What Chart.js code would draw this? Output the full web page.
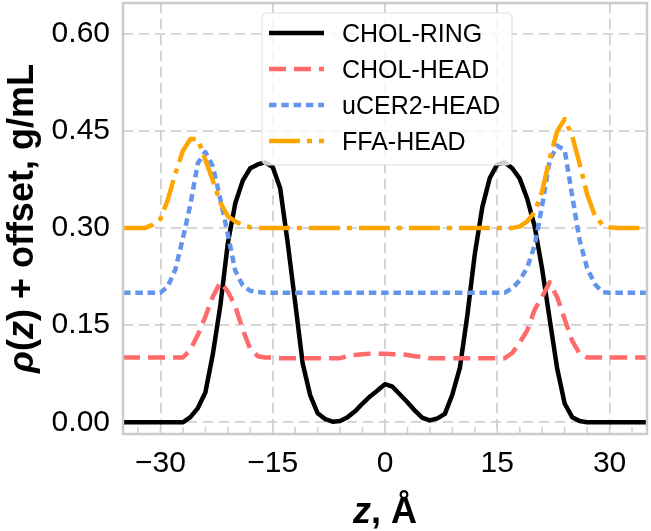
<!DOCTYPE html>
<html><head><meta charset="utf-8">
<script src="https://cdn.jsdelivr.net/npm/chart.js@4/dist/chart.umd.min.js"></script>
<style>html,body{margin:0;padding:0;background:#fff;}#wrap{width:651px;height:531px;}</style>
</head><body><div id="wrap"><canvas id="c" width="651" height="531"></canvas></div>
<script>
const zValues = [-35,-34,-33,-32,-31,-30,-29,-28,-27,-26,-25,-24,-23,-22,-21,-20,-19,-18,-17,-16,-15,-14,-13,-12,-11,-10,-9,-8,-7,-6,-5,-4,-3,-2,-1,0,1,2,3,4,5,6,7,8,9,10,11,12,13,14,15,16,17,18,19,20,21,22,23,24,25,26,27,28,29,30,31,32,33,34,35];

const cholRing = [0,0,0,0,0,0,0,0,0,
  0.008,0.022,0.046,0.105,0.18,0.276,0.338,0.373,0.392,0.398,
  0.401,0.394,0.361,0.277,0.185,0.091,0.042,0.014,0.005,0.001,
  0.002,0.008,0.017,0.029,0.040,0.049,
  0.059,
  0.055,0.043,0.031,0.018,0.007,0.003,
  0.006,0.013,0.043,0.084,0.165,0.26,0.332,0.377,0.398,0.401,
  0.392,0.376,0.345,0.302,0.236,0.159,0.083,0.029,0.008,0.002,
  0,0,0,0,0,0,0,0,0];

const cholHead = [0.1,0.1,0.1,0.1,0.1,0.1,0.1,0.1,0.1,
  0.112,0.135,0.163,0.194,0.216,0.202,0.179,0.143,0.113,0.102,
  0.1,0.1,0.099,0.099,0.099,0.099,0.099,0.099,0.099,0.099,
  0.099,0.102,0.104,0.105,0.106,0.106,
  0.106,
  0.105,0.105,0.104,0.102,0.101,0.099,
  0.099,0.099,0.099,0.099,0.099,0.099,0.099,0.099,0.099,0.099,
  0.107,0.123,0.142,0.174,0.194,0.216,0.193,0.159,0.126,0.106,
  0.1,0.1,0.1,0.1,0.1,0.1,0.1,0.1,0.1];

const ucer2Head = [0.2,0.2,0.2,0.2,0.2,0.2,0.21,0.236,0.284,
  0.336,0.40,0.417,0.395,0.345,0.29,0.234,0.211,0.203,0.201,
  0.2,0.2,0.2,0.2,0.2,0.2,0.2,0.2,0.2,0.2,
  0.2,0.2,0.2,0.2,0.2,0.2,
  0.2,
  0.2,0.2,0.2,0.2,0.2,0.2,
  0.2,0.2,0.2,0.2,0.2,0.2,0.2,0.2,0.2,0.2,
  0.207,0.219,0.239,0.273,0.335,0.404,0.427,0.420,0.35,0.281,
  0.238,0.214,0.201,0.2,0.2,0.2,0.2,0.2,0.2];

const ffaHead = [0.3,0.3,0.3,0.3,0.305,0.314,0.344,0.384,0.419,
  0.437,0.437,0.405,0.373,0.339,0.318,0.31,0.304,0.301,0.3,
  0.3,0.3,0.3,0.3,0.3,0.3,0.3,0.3,0.3,0.3,
  0.3,0.3,0.3,0.3,0.3,0.3,
  0.3,
  0.3,0.3,0.3,0.3,0.3,0.3,
  0.3,0.3,0.3,0.3,0.3,0.3,0.3,0.3,0.3,0.3,
  0.3,0.302,0.31,0.325,0.357,0.407,0.449,0.468,0.442,0.399,
  0.352,0.32,0.305,0.301,0.3,0.3,0.3,0.3,0.3];

const seriesNames = ['CHOL-RING','CHOL-HEAD','uCER2-HEAD','FFA-HEAD'];
const xMinorTicks = [-33,-30,-27,-24,-21,-18,-15,-12,-9,-6,-3,0,3,6,9,12,15,18,21,24,27,30,33];

const FONT = "'Liberation Sans', Arial, Helvetica, sans-serif";
const GRID = '#d0d0d0';

function pts(arr){ return zValues.map((z,i)=>({x:z, y:arr[i]})); }

const styles = [
  {color:'#000000', dash:[], width:4.5},
  {color:'#ff6b6b', dash:[17,8], width:4.5},
  {color:'#6495ed', dash:[7.5,4.8], width:4.5},
  {color:'#ffa500', dash:[31,7,5,7], width:4.5}
];
const seriesData = [cholRing, cholHead, ucer2Head, ffaHead];

function drawRuns(ctx, runs, x, y){
  let total = 0;
  runs.forEach(r=>{ctx.font=r.f; r.w=ctx.measureText(r.t).width; total+=r.w;});
  let cx = x - total/2;
  ctx.textAlign='left';
  runs.forEach(r=>{ctx.font=r.f; ctx.fillText(r.t, cx, y); cx+=r.w;});
}

const decor = {
  id:'decor',
  afterDatasetsDraw(chart){
    const {ctx, chartArea:a, scales:{x}} = chart;
    ctx.save();
    ctx.setLineDash([]);
    ctx.strokeStyle = GRID; ctx.lineWidth = 1.6;
    xMinorTicks.forEach(t=>{
      const px = x.getPixelForValue(t);
      ctx.beginPath(); ctx.moveTo(px, a.bottom); ctx.lineTo(px, a.bottom-7); ctx.stroke();
    });
    ctx.lineWidth = 2.5; ctx.strokeStyle = '#cccccc';
    ctx.strokeRect(a.left, a.top, a.right-a.left, a.bottom-a.top);
    // legend
    const lx = a.left + 139, ly = a.top + 10, lw = 250, lh = 152;
    ctx.beginPath();
    ctx.roundRect(lx, ly, lw, lh, 5);
    ctx.fillStyle = 'rgba(255,255,255,0.8)';
    ctx.fill();
    ctx.lineWidth = 1; ctx.strokeStyle = '#dedede'; ctx.stroke();
    chart.data.datasets.forEach((ds,i)=>{
      const cy = ly + 20 + i*36;
      ctx.save();
      ctx.strokeStyle = ds.borderColor; ctx.lineWidth = ds.borderWidth;
      ctx.setLineDash(ds.borderDash || []);
      ctx.lineCap = 'butt';
      ctx.beginPath(); ctx.moveTo(lx+7, cy); ctx.lineTo(lx+62, cy); ctx.stroke();
      ctx.restore();
      ctx.fillStyle = '#000'; ctx.font = '25px ' + FONT; ctx.textAlign='left'; ctx.textBaseline='alphabetic';
      ctx.fillText(ds.label, lx + 80, cy + 9);
    });
    ctx.restore();
  },
  afterDraw(chart){
    const {ctx, chartArea:a} = chart;
    ctx.save();
    ctx.fillStyle = '#000'; ctx.textBaseline = 'alphabetic';
    const B = 'bold 36px ' + FONT, BI = 'italic bold 36px ' + FONT;
    drawRuns(ctx, [{t:'z',f:BI},{t:', Å',f:B}], (a.left+a.right)/2, 523);
    ctx.translate(33, (a.top+a.bottom)/2);
    ctx.rotate(-Math.PI/2);
    drawRuns(ctx, [{t:'ρ',f:BI},{t:'(',f:B},{t:'z',f:BI},{t:') + offset, g/mL',f:B}], 0, 0);
    ctx.restore();
  }
};

function zeroPad(s){ s.paddingTop = 0; s.paddingBottom = 0; s.paddingLeft = 0; s.paddingRight = 0; }

new Chart(document.getElementById('c'), {
  type:'line',
  data:{ datasets: seriesNames.map((n,i)=>({
    label:n, data:pts(seriesData[i]), borderColor:styles[i].color, backgroundColor:styles[i].color,
    borderDash:styles[i].dash, borderWidth:styles[i].width, pointRadius:0, tension:0, fill:false,
    order: 4-i, borderCapStyle:'butt', borderJoinStyle:'round'
  }))},
  options:{
    responsive:false, animation:false, devicePixelRatio:1,
    layout:{padding:{left:0,right:4,top:3,bottom:0}},
    plugins:{legend:{display:false}, tooltip:{enabled:false}},
    scales:{
      x:{type:'linear', min:-35, max:35,
        ticks:{stepSize:15, includeBounds:false, autoSkip:false, maxRotation:0, color:'#000', padding:12,
          font:{family:FONT, size:30},
          callback:v=> v<0 ? '\u2212'+Math.abs(v) : String(v)},
        grid:{color:GRID, lineWidth:1.8, drawTicks:false},
        border:{display:false, dash:[10,6]},
        afterFit:s=>{s.height = 97; zeroPad(s);}
      },
      y:{min:-0.018, max:0.647,
        ticks:{stepSize:0.15, includeBounds:false, color:'#000', padding:13,
          font:{family:FONT, size:30},
          callback:v=>v.toFixed(2)},
        grid:{color:GRID, lineWidth:1.8, drawTicks:false},
        border:{display:false, dash:[10,6]},
        afterFit:s=>{s.width = 123; zeroPad(s);}
      }
    }
  },
  plugins:[decor]
});
</script></body></html>
